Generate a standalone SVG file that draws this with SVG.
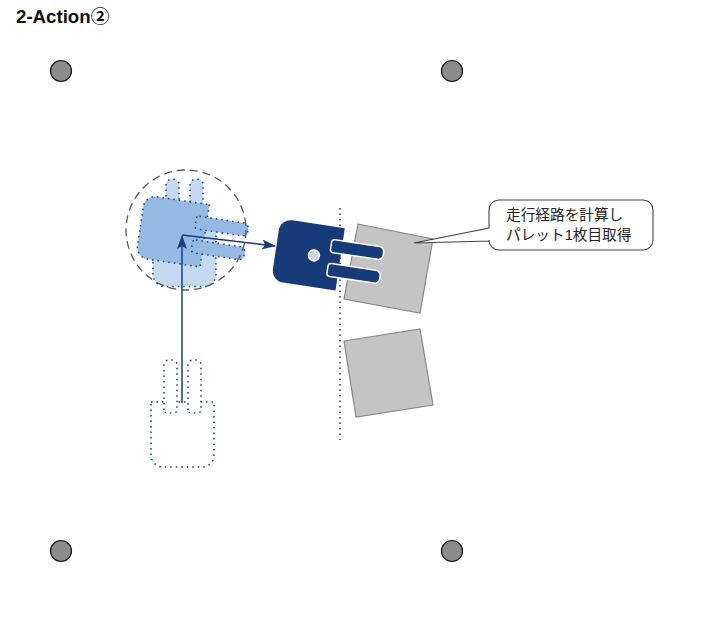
<svg xmlns="http://www.w3.org/2000/svg" width="718" height="628" viewBox="0 0 718 628">
<style>
text{font-family:"Liberation Sans","Noto Sans CJK JP",sans-serif;fill:#111}
.lbl{font-size:14.670px;fill:#222}
.post{fill:#8c8c8c;stroke:#111;stroke-width:1.2}
.pal{fill:#c4c4c4;stroke:#888;stroke-width:1.2}
.ghost{stroke:#1a3c7a;stroke-width:1.500;stroke-dasharray:1.500 4}
.conn{fill:none;stroke:#1a3c7a;stroke-width:1.5}
</style>
<defs>
<path id="body" d="M-31.500-32.500H31.500V20.500a12 12 0 0 1-12 12H-19.500a12 12 0 0 1-12-12Z"/>
<path id="fork" d="M0-24.500V-69.500a5 5 0 0 1 5-5h3a5 5 0 0 1 5 5V-24.500a3 3 0 0 1-3 3H3a3 3 0 0 1-3-3Z"/>
<marker id="arr" markerWidth="14" markerHeight="12" refX="13" refY="5" orient="auto" markerUnits="userSpaceOnUse"><path d="M0 0L14 5L0 10L3 5Z" fill="#1a3c7a"/></marker>
</defs>
<text x="16" y="23" font-size="18.670" font-weight="bold">2-Action<tspan font-family="'Noto Sans CJK JP',sans-serif">②</tspan></text>
<g id="posts">
<circle class="post" cx="61" cy="71" r="10.500"/>
<circle class="post" cx="452" cy="71" r="10.500"/>
<circle class="post" cx="61" cy="551" r="10.500"/>
<circle class="post" cx="452" cy="551" r="10.500"/>
</g>
<g id="pallets">
<polygon class="pal" points="358,224 433,239 420,313 344,299"/>
<polygon class="pal" points="344,341 420,329 433,405 356,417"/>
</g>
<line id="edge" x1="340" y1="208" x2="340" y2="440" stroke="#333" stroke-width="1.500" stroke-dasharray="1.500 4"/>
<g id="fork-start" transform="translate(182.500,434.500)" fill="#fff" class="ghost">
<use href="#body"/>
<use href="#fork" x="-18.500"/>
<use href="#fork" x="5.500"/>
</g>
<g id="fork-light" transform="translate(184.500,254)" fill="#c5daf0" class="ghost">
<use href="#body"/>
<use href="#fork" x="-18.500"/>
<use href="#fork" x="5.500"/>
</g>
<g id="fork-mid" transform="translate(172.500,231) rotate(98.500)" fill="#94bae3" class="ghost">
<use href="#body"/>
<use href="#fork" x="-18.500"/>
<use href="#fork" x="5.500"/>
</g>
<circle id="turn-circle" cx="186" cy="230" r="60" fill="none" stroke="#555" stroke-width="1.300" stroke-dasharray="8 5"/>
<g id="connectors">
<path class="conn" d="M182 403V236" marker-end="url(#arr)"/>
<path class="conn" d="M182 235L275 246" marker-end="url(#arr)"/>
</g>
<g id="fork-dark" transform="translate(308,254.500) rotate(98.500)" fill="#173a78" stroke="#fff" stroke-width="1.500">
<use href="#body" stroke="none"/>
<use href="#fork" x="-18.500"/>
<use href="#fork" x="5.500"/>
<circle cx="0" cy="-6" r="5.500" fill="#c9d8f0" stroke="#fff"/>
</g>
<g id="callout">
<path d="M499 200H643a10 10 0 0 1 10 10V240a10 10 0 0 1-10 10H499a10 10 0 0 1-10-10V241L414 243L489 228V210a10 10 0 0 1 10-10Z" fill="#fff" stroke="#444" stroke-width="1.100"/>
<text class="lbl" x="506" y="220">走行経路を計算し</text>
<text class="lbl" x="506" y="240">パレット1枚目取得</text>
</g>
</svg>
